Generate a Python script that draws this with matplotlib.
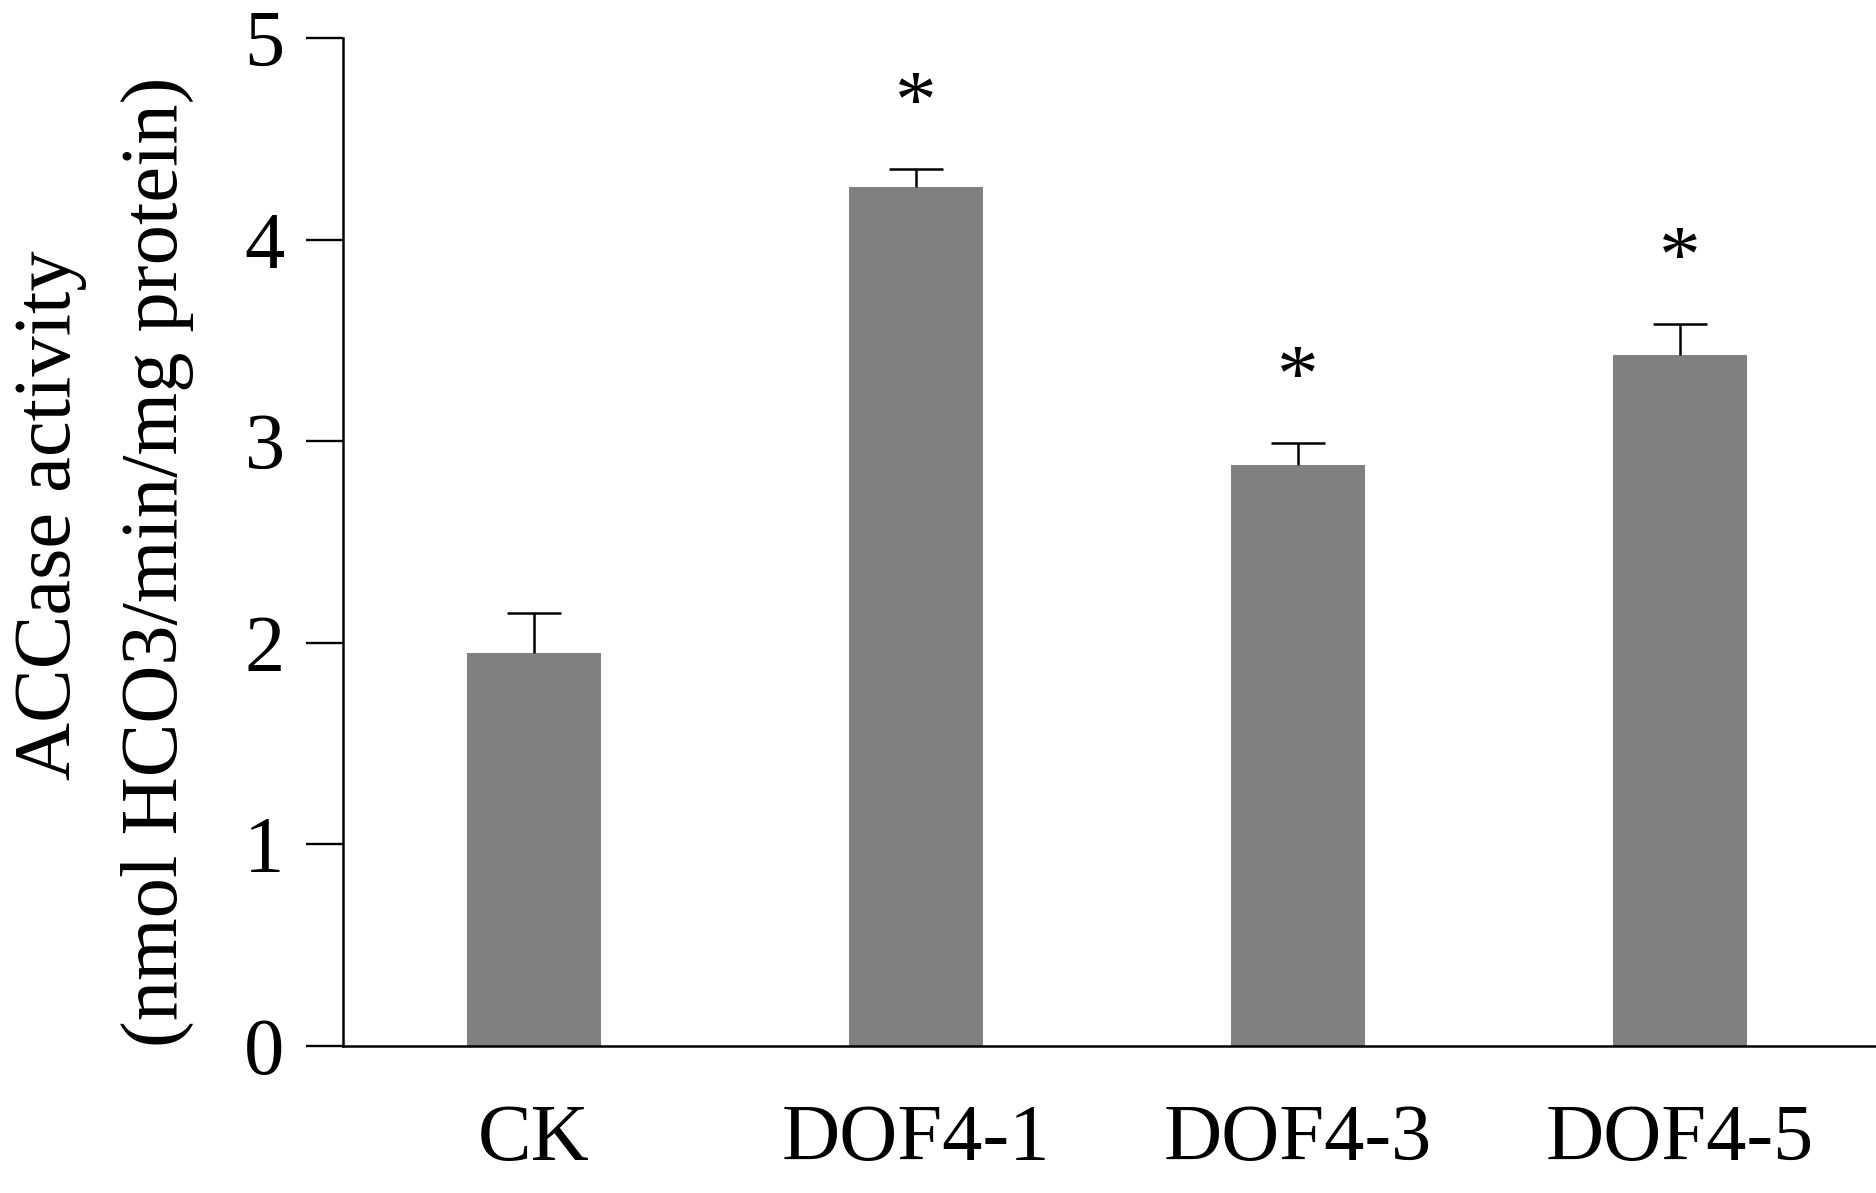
import matplotlib
matplotlib.use("Agg")
import matplotlib.pyplot as plt
import numpy as np

# data
groups = ["CK", "DOF4-1", "DOF4-3", "DOF4-5"]
activity = [1.95, 4.26, 2.88, 3.43]
error = [0.20, 0.09, 0.11, 0.15]
marked = [False, True, True, True]   # groups with a significance star

plt.rcParams["font.family"] = ["Liberation Serif", "DejaVu Serif"]
plt.rcParams["font.size"] = 58

W, H = 1876, 1193
fig = plt.figure(figsize=(W / 100, H / 100), dpi=100)
ax = fig.add_axes([343 / W, 1 - 1046 / H, 1 - 343 / W, (1046 - 38) / H])

x = np.arange(len(groups))
ax.bar(x, activity, width=0.353, color="#808080", zorder=2)
eb = ax.errorbar(x, activity, yerr=[np.zeros(len(error)), error],
                 fmt="none", ecolor="black", elinewidth=1.8,
                 capsize=19.5, capthick=1.8, zorder=3)
# only the upper cap is drawn in the original
eb[1][0].set_visible(False)

for xi, m, e, flag in zip(x, activity, error, marked):
    if flag:
        ax.text(xi, m + e + 0.21, "*", ha="center", va="baseline", fontsize=60)

ax.set_xlim(-0.5, 3.513)
ax.set_ylim(0, 5)
ax.set_yticks([0, 1, 2, 3, 4, 5])
ax.set_xticks(x)
ax.set_xticklabels(groups)

ax.spines["top"].set_visible(False)
ax.spines["right"].set_visible(False)
ax.spines["left"].set_linewidth(1.8)
ax.spines["bottom"].set_linewidth(1.8)
ax.tick_params(axis="y", direction="out", length=27, width=1.7, pad=15)
ax.tick_params(axis="x", length=0, pad=42)

# two-line y label placed by hand
fig.text(70 / W, 1 - 515 / H, "ACCase activity", rotation=90,
         rotation_mode="anchor", ha="center", va="baseline")
fig.text(177 / W, 1 - 562 / H, "(nmol HCO3/min/mg protein)", rotation=90,
         rotation_mode="anchor", ha="center", va="baseline")

fig.savefig("out.png", dpi=100)
